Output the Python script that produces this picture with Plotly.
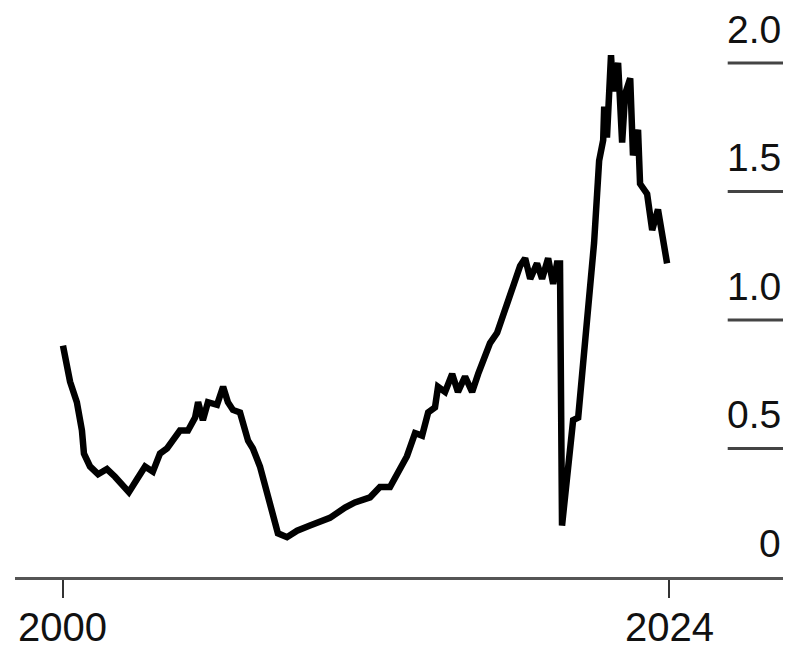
import plotly.graph_objects as go

years = [2000.00, 2000.28, 2000.55, 2000.75, 2000.83, 2001.07, 2001.39, 2001.74, 2002.06, 2002.34,
         2002.61, 2002.93, 2003.25, 2003.56, 2003.84, 2004.12, 2004.36, 2004.63, 2004.95, 2005.23,
         2005.35, 2005.54, 2005.74, 2006.10, 2006.34, 2006.53, 2006.73, 2007.01, 2007.33, 2007.52,
         2007.80, 2008.08, 2008.32, 2008.51, 2008.87, 2009.27, 2009.78, 2010.57, 2011.17, 2011.56,
         2012.16, 2012.55, 2012.95, 2013.35, 2013.62, 2013.94, 2014.22, 2014.46, 2014.73, 2014.85,
         2015.13, 2015.41, 2015.64, 2015.92, 2016.20, 2016.44, 2016.71, 2016.91, 2017.19, 2017.43,
         2017.70, 2017.90, 2018.10, 2018.30, 2018.50, 2018.77, 2018.97, 2019.21, 2019.41, 2019.56,
         2019.68, 2019.76, 2020.20, 2020.40, 2020.83, 2021.03, 2021.23, 2021.39, 2021.43, 2021.54,
         2021.70, 2021.78, 2021.98, 2022.14, 2022.26, 2022.46, 2022.57, 2022.77, 2022.85, 2023.13,
         2023.33, 2023.56, 2023.92]
values = [0.90, 0.76, 0.68, 0.57, 0.48, 0.43, 0.40, 0.42, 0.39, 0.36,
          0.33, 0.38, 0.43, 0.41, 0.48, 0.50, 0.53, 0.57, 0.57, 0.62,
          0.68, 0.61, 0.68, 0.67, 0.74, 0.68, 0.65, 0.64, 0.53, 0.50,
          0.43, 0.33, 0.24, 0.17, 0.155, 0.18, 0.20, 0.23, 0.27, 0.29,
          0.31, 0.35, 0.35, 0.42, 0.47, 0.56, 0.55, 0.64, 0.66, 0.74,
          0.72, 0.79, 0.72, 0.78, 0.72, 0.79, 0.87, 0.91, 0.95, 1.02,
          1.10, 1.14, 1.21, 1.24, 1.16, 1.22, 1.16, 1.24, 1.14, 1.22,
          1.22, 0.20, 0.61, 0.62, 1.10, 1.30, 1.62, 1.70, 1.83, 1.71,
          2.03, 1.89, 2.00, 1.69, 1.88, 1.94, 1.64, 1.74, 1.53, 1.49,
          1.35, 1.43, 1.22]

x_tickvals = [2000, 2024]
x_ticktext = ["2000", "2024"]
y_tickvals = [0, 0.5, 1.0, 1.5, 2.0]
y_ticktext = ["0", "0.5", "1.0", "1.5", "2.0"]

FONT = "Liberation Sans, Arial, sans-serif"

fig = go.Figure()
fig.add_trace(go.Scatter(x=years, y=values, mode="lines",
                         line=dict(color="#000000", width=6.5),
                         hoverinfo="skip", showlegend=False))

# y tick marks (short lines at right) and labels above them
for v, t in zip(y_tickvals, y_ticktext):
    if v != 0:
        fig.add_shape(type="line", xref="paper", yref="y", x0=0.928, x1=1.0, y0=v, y1=v,
                      line=dict(color="#444444", width=3), layer="below")
    fig.add_annotation(xref="paper", yref="y", x=1.0, y=v, text=t, showarrow=False,
                       xanchor="right", yanchor="bottom", yshift=10,
                       font=dict(family=FONT, size=39, color="#111111"))

# x tick labels below the tick marks
for v, t in zip(x_tickvals, x_ticktext):
    fig.add_annotation(xref="x", yref="paper", x=v, y=0, text=t, showarrow=False,
                       xanchor="center", yanchor="middle", yshift=-50,
                       font=dict(family=FONT, size=40, color="#111111"))

fig.update_layout(
    width=775, height=649,
    margin=dict(l=7, r=0, t=12, b=80),
    paper_bgcolor="white", plot_bgcolor="white",
    xaxis=dict(range=[1998.10, 2028.51], showgrid=False, zeroline=False,
               showline=True, linecolor="#555555", linewidth=3,
               ticks="outside", ticklen=18, tickwidth=2, tickcolor="#333333",
               tickvals=x_tickvals, showticklabels=False),
    yaxis=dict(range=[0, 2.167], showgrid=False, zeroline=False, showline=False,
               showticklabels=False, ticks=""),
)

fig.write_html("out.html")
